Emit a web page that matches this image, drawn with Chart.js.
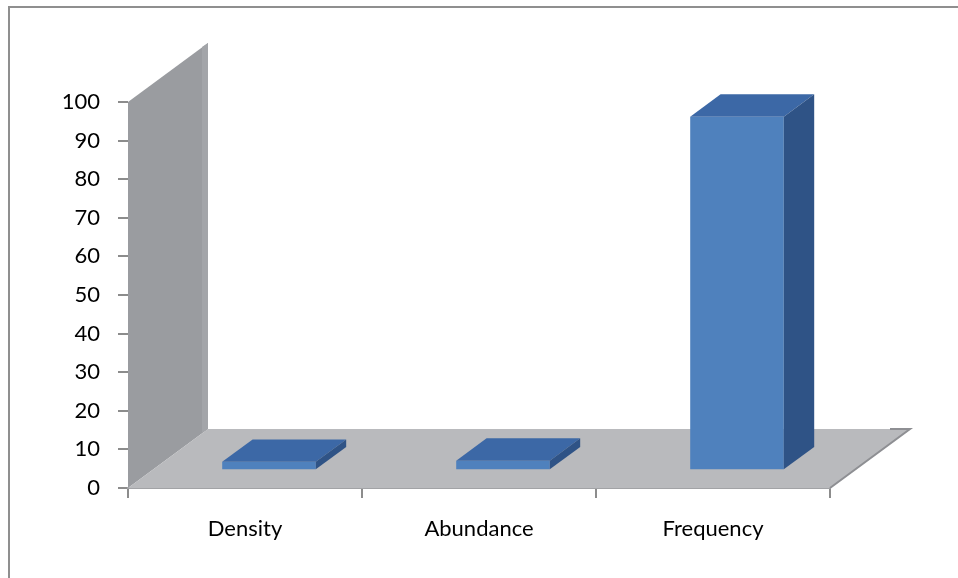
<!DOCTYPE html>
<html>
<head>
<meta charset="utf-8">
<script src="https://cdn.jsdelivr.net/npm/chart.js@4/dist/chart.umd.min.js"></script>
<style>
  html, body { margin: 0; padding: 0; background: #fff; }
  #wrap { width: 958px; height: 578px; position: relative; }
</style>
</head>
<body>
<div id="wrap"><canvas id="chart" width="958" height="578"></canvas></div>
<script>
// Chart data
const categories = ['Density', 'Abundance', 'Frequency'];
const values = [2.2, 2.5, 91.6];
const yMin = 0;
const yMax = 100;
const yStep = 10;

// 3D look: depth vector of the box (walls/floor) and where the bars sit in it
const DEPTH_DX = 80;
const DEPTH_DY = -59;
const BAR_FRONT = 0.30;
const BAR_BACK = 0.68;

const FONT = { family: 'Lato, "Open Sans", sans-serif', size: 22 };
const AXIS_GRAY = '#8c8c8c';

function poly(ctx, pts, fill, stroke, lw) {
  ctx.beginPath();
  ctx.moveTo(pts[0][0], pts[0][1]);
  for (let i = 1; i < pts.length; i++) ctx.lineTo(pts[i][0], pts[i][1]);
  ctx.closePath();
  if (fill) { ctx.fillStyle = fill; ctx.fill(); }
  if (stroke) { ctx.strokeStyle = stroke; ctx.lineWidth = lw || 1; ctx.stroke(); }
}

const box3d = {
  id: 'box3d',
  beforeDraw(chart) {
    const ctx = chart.ctx;
    ctx.save();
    ctx.fillStyle = '#ffffff';
    ctx.fillRect(0, 0, chart.width, chart.height);
    // outer frame
    ctx.strokeStyle = '#8f8f8f';
    ctx.lineWidth = 2;
    ctx.beginPath();
    ctx.moveTo(9, chart.height);
    ctx.lineTo(9, 7);
    ctx.lineTo(chart.width, 7);
    ctx.stroke();
    ctx.restore();
  },
  beforeDatasetsDraw(chart) {
    const ctx = chart.ctx;
    const a = chart.chartArea;
    const ys = chart.scales.y;
    const top = ys.getPixelForValue(yMax);
    const bot = ys.getPixelForValue(yMin);
    ctx.save();
    // side wall
    poly(ctx, [[a.left, top], [a.left + DEPTH_DX, top + DEPTH_DY],
               [a.left + DEPTH_DX, bot + DEPTH_DY], [a.left, bot]], '#9a9ca0');
    poly(ctx, [[a.left + DEPTH_DX - 6, top + DEPTH_DY + 4], [a.left + DEPTH_DX, top + DEPTH_DY],
               [a.left + DEPTH_DX, bot + DEPTH_DY], [a.left + DEPTH_DX - 6, bot + DEPTH_DY + 4]], '#a3a5a9');
    // floor
    poly(ctx, [[a.left, bot], [a.right, bot],
               [a.right + DEPTH_DX, bot + DEPTH_DY], [a.left + DEPTH_DX, bot + DEPTH_DY]], '#b9babd');
    ctx.strokeStyle = '#8e8f93';
    ctx.lineWidth = 2;
    ctx.beginPath();
    ctx.moveTo(a.right, bot);
    ctx.lineTo(a.right + DEPTH_DX, bot + DEPTH_DY);
    ctx.lineTo(a.right + DEPTH_DX - 20, bot + DEPTH_DY);
    ctx.stroke();
    // bars sit partway into the depth
    ctx.translate(DEPTH_DX * BAR_FRONT, DEPTH_DY * BAR_FRONT);
  },
  afterDatasetsDraw(chart) {
    const ctx = chart.ctx;
    const ddx = DEPTH_DX * (BAR_BACK - BAR_FRONT);
    const ddy = DEPTH_DY * (BAR_BACK - BAR_FRONT);
    chart.getDatasetMeta(0).data.forEach(bar => {
      const p = bar.getProps(['x', 'y', 'base', 'width'], true);
      const l = p.x - p.width / 2;
      const r = p.x + p.width / 2;
      // top face
      poly(ctx, [[l, p.y], [r, p.y], [r + ddx, p.y + ddy], [l + ddx, p.y + ddy]], '#3c68a6');
      // right side face
      poly(ctx, [[r, p.y], [r + ddx, p.y + ddy], [r + ddx, p.base + ddy], [r, p.base]], '#2f5386');
    });
    ctx.restore();
  }
};

const yTicks = [];
for (let v = yMin; v <= yMax; v += yStep) yTicks.push(v);

new Chart(document.getElementById('chart'), {
  type: 'bar',
  data: {
    labels: categories,
    datasets: [{
      data: values,
      backgroundColor: '#4f81bd',
      borderWidth: 0,
      barPercentage: 0.40,
      categoryPercentage: 1.0,
      clip: false
    }]
  },
  options: {
    responsive: false,
    animation: false,
    events: [],
    layout: { padding: { left: 0, top: 102, right: 128, bottom: 0 } },
    plugins: {
      legend: { display: false },
      tooltip: { enabled: false }
    },
    scales: {
      x: {
        offset: true,
        grid: {
          offset: true,
          drawOnChartArea: false,
          drawTicks: true,
          tickLength: 10,
          color: AXIS_GRAY,
          lineWidth: 2
        },
        border: { display: true, color: '#a2a3a6', width: 2 },
        ticks: { color: '#000', font: FONT, padding: 18 },
        afterFit(scale) { scale.height = 90; }
      },
      y: {
        min: yMin,
        max: yMax,
        afterBuildTicks(scale) { scale.ticks = yTicks.map(v => ({ value: v })); },
        grid: {
          drawOnChartArea: false,
          drawTicks: true,
          tickLength: 10,
          color: AXIS_GRAY,
          lineWidth: 2
        },
        border: { display: false },
        ticks: { color: '#000', font: FONT, padding: 18 },
        afterFit(scale) { scale.width = 128; }
      }
    }
  },
  plugins: [box3d]
});
</script>
</body>
</html>
